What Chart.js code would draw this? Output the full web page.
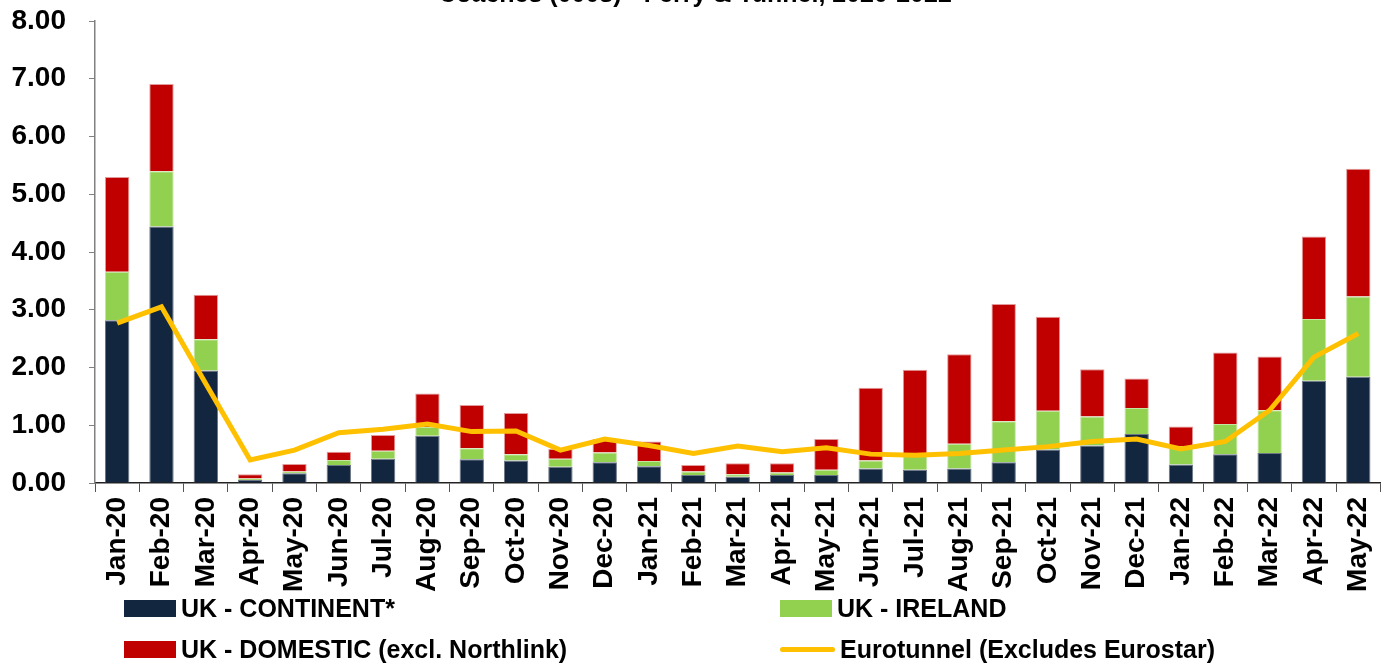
<!DOCTYPE html>
<html lang="en">
<head>
<meta charset="utf-8">
<title>Coaches (000s) - Ferry & Tunnel, 2020-2022</title>
<script src="https://cdn.jsdelivr.net/npm/chart.js@4.4.1/dist/chart.umd.min.js"></script>
<style>
    html, body {
        margin: 0;
        padding: 0;
        width: 1397px;
        height: 664px;
        overflow: hidden;
        background: #ffffff;
        font-family: 'Liberation Sans', Arial, sans-serif;
    }
    #chart-wrap {
        position: absolute;
        left: 0;
        top: -20px;
        width: 1397px;
        height: 618px;
    }
    #legend {
        position: absolute;
        left: 124px;
        top: 588px;
        display: grid;
        grid-template-columns: 656px auto;
        grid-auto-rows: 41px;
    }
    .legend-item {
        display: flex;
        align-items: center;
        font-weight: bold;
        font-size: 25px;
        color: #000;
        white-space: nowrap;
    }
    .legend-box {
        width: 52px;
        height: 17px;
        margin-right: 5px;
    }
    .legend-line {
        width: 55px;
        height: 5px;
        border-radius: 3px;
        margin-right: 5px;
    }
</style>
</head>
<body>
<div id="chart-wrap"><canvas id="coachChart" width="1397" height="618"></canvas></div>
<div id="legend"></div>

<script>
// Données (milliers d'autocars)
const months = [
    'Jan-20', 'Feb-20', 'Mar-20', 'Apr-20', 'May-20', 'Jun-20', 'Jul-20', 'Aug-20', 'Sep-20', 'Oct-20', 'Nov-20', 'Dec-20',
    'Jan-21', 'Feb-21', 'Mar-21', 'Apr-21', 'May-21', 'Jun-21', 'Jul-21', 'Aug-21', 'Sep-21', 'Oct-21', 'Nov-21', 'Dec-21',
    'Jan-22', 'Feb-22', 'Mar-22', 'Apr-22', 'May-22'
];

const ukContinent = [
    2.82, 4.44, 1.95, 0.05, 0.17, 0.31, 0.42, 0.82, 0.41, 0.39, 0.28, 0.36,
    0.29, 0.14, 0.11, 0.14, 0.14, 0.25, 0.23, 0.25, 0.36, 0.58, 0.65, 0.85,
    0.32, 0.50, 0.52, 1.77, 1.84
];

const ukIreland = [
    0.84, 0.96, 0.54, 0.03, 0.03, 0.09, 0.14, 0.15, 0.19, 0.11, 0.14, 0.17,
    0.09, 0.06, 0.04, 0.04, 0.09, 0.14, 0.28, 0.43, 0.71, 0.67, 0.50, 0.45,
    0.32, 0.52, 0.74, 1.07, 1.39
];

const ukDomestic = [
    1.64, 1.51, 0.77, 0.07, 0.13, 0.14, 0.27, 0.58, 0.75, 0.71, 0.17, 0.23,
    0.34, 0.11, 0.19, 0.16, 0.53, 1.26, 1.45, 1.55, 2.03, 1.63, 0.82, 0.51,
    0.34, 1.24, 0.93, 1.43, 2.21
];

const eurotunnel = [
    2.77, 3.05, 1.72, 0.40, 0.57, 0.87, 0.93, 1.02, 0.89, 0.90, 0.57, 0.76,
    0.65, 0.51, 0.64, 0.54, 0.61, 0.50, 0.48, 0.51, 0.57, 0.63, 0.72, 0.76,
    0.59, 0.72, 1.26, 2.18, 2.59
];

const yTicks = [0, 1, 2, 3, 4, 5, 6, 7, 8];

const FONT = "'Liberation Sans', Arial, sans-serif";

let coachChart = null;

document.addEventListener('DOMContentLoaded', () => {
    initChart();
    buildLegend();
});

function initChart() {
    const ctx = document.getElementById('coachChart').getContext('2d');
    coachChart = new Chart(ctx, {
        type: 'bar',
        data: {
            labels: months,
            datasets: [
                {
                    label: 'UK - CONTINENT*',
                    data: ukContinent,
                    backgroundColor: '#12263f',
                    borderColor: '#6d7785',
                    borderWidth: 1,
                    order: 1
                },
                {
                    label: 'UK - IRELAND',
                    data: ukIreland,
                    backgroundColor: '#92d050',
                    borderColor: '#c4e6a2',
                    borderWidth: 1,
                    order: 1
                },
                {
                    label: 'UK - DOMESTIC (excl. Northlink)',
                    data: ukDomestic,
                    backgroundColor: '#c00000',
                    borderColor: '#e39a9a',
                    borderWidth: 1,
                    order: 1
                },
                {
                    type: 'line',
                    label: 'Eurotunnel (Excludes Eurostar)',
                    data: eurotunnel,
                    borderColor: '#ffc000',
                    backgroundColor: '#ffc000',
                    borderWidth: 5,
                    pointRadius: 0,
                    tension: 0,
                    fill: false,
                    order: 0
                }
            ]
        },
        options: {
            responsive: false,
            animation: false,
            layout: {
                padding: { left: 0, right: 7, top: 0, bottom: 0 }
            },
            datasets: {
                bar: {
                    categoryPercentage: 1.0,
                    barPercentage: 0.55
                }
            },
            plugins: {
                legend: { display: false },
                tooltip: { enabled: false },
                title: {
                    display: true,
                    text: 'Coaches (000s) - Ferry & Tunnel, 2020-2022',
                    color: '#000',
                    font: { family: FONT, size: 25, weight: 'bold' },
                    padding: { top: 0, bottom: 11 }
                }
            },
            scales: {
                x: {
                    stacked: true,
                    grid: {
                        offset: true,
                        drawOnChartArea: false,
                        drawTicks: true,
                        tickLength: 9,
                        color: '#555'
                    },
                    border: { color: '#222', width: 1.5 },
                    ticks: {
                        autoSkip: false,
                        minRotation: 90,
                        maxRotation: 90,
                        padding: 5,
                        color: '#000',
                        font: { family: FONT, size: 28, weight: 'bold' }
                    },
                    afterFit: (scale) => { scale.height = 115; }
                },
                y: {
                    stacked: true,
                    min: 0,
                    max: 8,
                    afterBuildTicks: (scale) => {
                        scale.ticks = yTicks.map(v => ({ value: v }));
                    },
                    grid: {
                        drawOnChartArea: false,
                        drawTicks: true,
                        tickLength: 6,
                        color: '#808080'
                    },
                    border: { color: '#808080', width: 1.5 },
                    ticks: {
                        padding: 23,
                        color: '#000',
                        font: { family: FONT, size: 28, weight: 'bold' },
                        callback: (value) => Number(value).toFixed(2)
                    },
                    afterFit: (scale) => { scale.width = 95; }
                }
            }
        }
    });
}

// Légende HTML en deux colonnes
function buildLegend() {
    const legend = document.getElementById('legend');
    coachChart.data.datasets.forEach(ds => {
        const item = document.createElement('div');
        item.className = 'legend-item';
        const mark = document.createElement('span');
        mark.className = ds.type === 'line' ? 'legend-line' : 'legend-box';
        mark.style.background = ds.backgroundColor;
        const text = document.createElement('span');
        text.textContent = ds.label;
        item.appendChild(mark);
        item.appendChild(text);
        legend.appendChild(item);
    });
}
</script>
</body>
</html>
